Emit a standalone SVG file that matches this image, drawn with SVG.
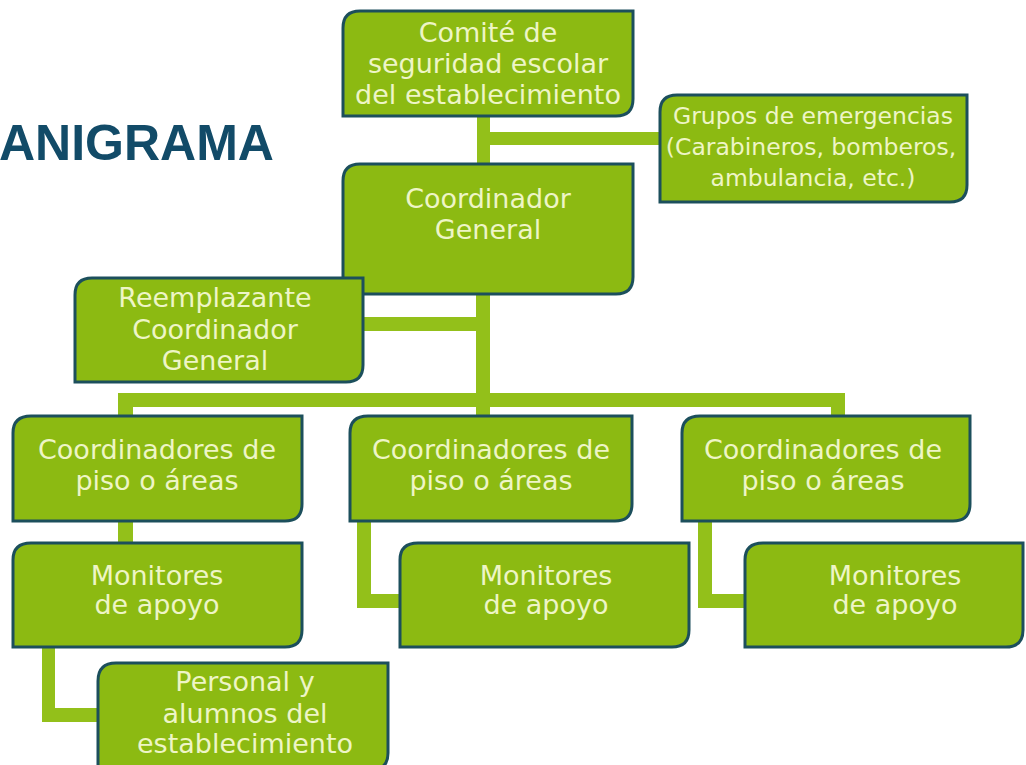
<svg xmlns="http://www.w3.org/2000/svg" width="1026" height="765" viewBox="0 0 1026 765">
<style>
.box{fill:#8cba12;stroke:#1c4f5c;stroke-width:3}
.lbl{font-family:"DejaVu Sans",sans-serif;font-size:27px;fill:#eef5c6;text-anchor:middle}
.sm{font-size:23.5px}
.con{fill:#93c01a}
.title{font-family:"Liberation Sans",Arial,sans-serif;font-weight:bold;font-size:50px;fill:#124b68}
</style>
<rect width="1026" height="765" fill="#ffffff"/>
<text class="title" x="-1" y="160">ANIGRAMA</text>
<g id="connectors">
<rect class="con" x="477" y="116" width="13" height="48"/>
<rect class="con" x="490" y="132" width="171" height="13"/>
<rect class="con" x="476" y="294" width="14" height="122"/>
<rect class="con" x="362" y="317" width="115" height="14"/>
<rect class="con" x="118" y="393" width="727" height="14"/>
<rect class="con" x="118" y="393" width="15" height="25"/>
<rect class="con" x="831" y="393" width="14" height="23"/>
<rect class="con" x="118" y="521" width="15" height="23"/>
<rect class="con" x="357" y="521" width="14" height="87"/>
<rect class="con" x="357" y="594" width="44" height="14"/>
<rect class="con" x="698" y="521" width="14" height="87"/>
<rect class="con" x="698" y="594" width="48" height="14"/>
<rect class="con" x="42" y="647" width="13" height="75"/>
<rect class="con" x="42" y="708" width="57" height="14"/>
</g>
<g id="comite">
<path class="box" d="M360 11 H633 V99 Q633 116 616 116 H343 V28 Q343 11 360 11 Z"/>
<text class="lbl" x="488" y="42">Comité de</text>
<text class="lbl" x="488" y="73">seguridad escolar</text>
<text class="lbl" x="488" y="104">del establecimiento</text>
</g>
<g id="grupos">
<path class="box" d="M677 95 H967 V185 Q967 202 950 202 H660 V112 Q660 95 677 95 Z"/>
<text class="lbl sm" x="813" y="124">Grupos de emergencias</text>
<text class="lbl sm" x="811" y="155">(Carabineros, bomberos,</text>
<text class="lbl sm" x="813" y="186">ambulancia, etc.)</text>
</g>
<g id="coordinador">
<path class="box" d="M360 164 H633 V277 Q633 294 616 294 H343 V181 Q343 164 360 164 Z"/>
<text class="lbl" x="488" y="208">Coordinador</text>
<text class="lbl" x="488" y="239">General</text>
</g>
<g id="reemplazante">
<path class="box" d="M92 278 H363 V365 Q363 382 346 382 H75 V295 Q75 278 92 278 Z"/>
<text class="lbl" x="215" y="307">Reemplazante</text>
<text class="lbl" x="215" y="339">Coordinador</text>
<text class="lbl" x="215" y="370">General</text>
</g>
<g id="coord1">
<path class="box" d="M31 416 H302 V504 Q302 521 285 521 H13 V433 Q13 416 31 416 Z"/>
<text class="lbl" x="157" y="459">Coordinadores de</text>
<text class="lbl" x="157" y="490">piso o áreas</text>
</g>
<g id="coord2">
<path class="box" d="M368 416 H632 V504 Q632 521 615 521 H350 V433 Q350 416 368 416 Z"/>
<text class="lbl" x="491" y="459">Coordinadores de</text>
<text class="lbl" x="491" y="490">piso o áreas</text>
</g>
<g id="coord3">
<path class="box" d="M700 416 H970 V504 Q970 521 953 521 H682 V433 Q682 416 700 416 Z"/>
<text class="lbl" x="823" y="459">Coordinadores de</text>
<text class="lbl" x="823" y="490">piso o áreas</text>
</g>
<g id="monitores1">
<path class="box" d="M31 543 H302 V630 Q302 647 285 647 H13 V560 Q13 543 31 543 Z"/>
<text class="lbl" x="157" y="585">Monitores</text>
<text class="lbl" x="157" y="614">de apoyo</text>
</g>
<g id="monitores2">
<path class="box" d="M418 543 H689 V630 Q689 647 672 647 H400 V560 Q400 543 418 543 Z"/>
<text class="lbl" x="546" y="585">Monitores</text>
<text class="lbl" x="546" y="614">de apoyo</text>
</g>
<g id="monitores3">
<path class="box" d="M763 543 H1023 V630 Q1023 647 1006 647 H745 V560 Q745 543 763 543 Z"/>
<text class="lbl" x="895" y="585">Monitores</text>
<text class="lbl" x="895" y="614">de apoyo</text>
</g>
<g id="personal">
<path class="box" d="M116 663 H388 V753 Q388 770 371 770 H98 V681 Q98 663 116 663 Z"/>
<text class="lbl" x="245" y="691">Personal y</text>
<text class="lbl" x="245" y="723">alumnos del</text>
<text class="lbl" x="245" y="753">establecimiento</text>
</g>
</svg>
